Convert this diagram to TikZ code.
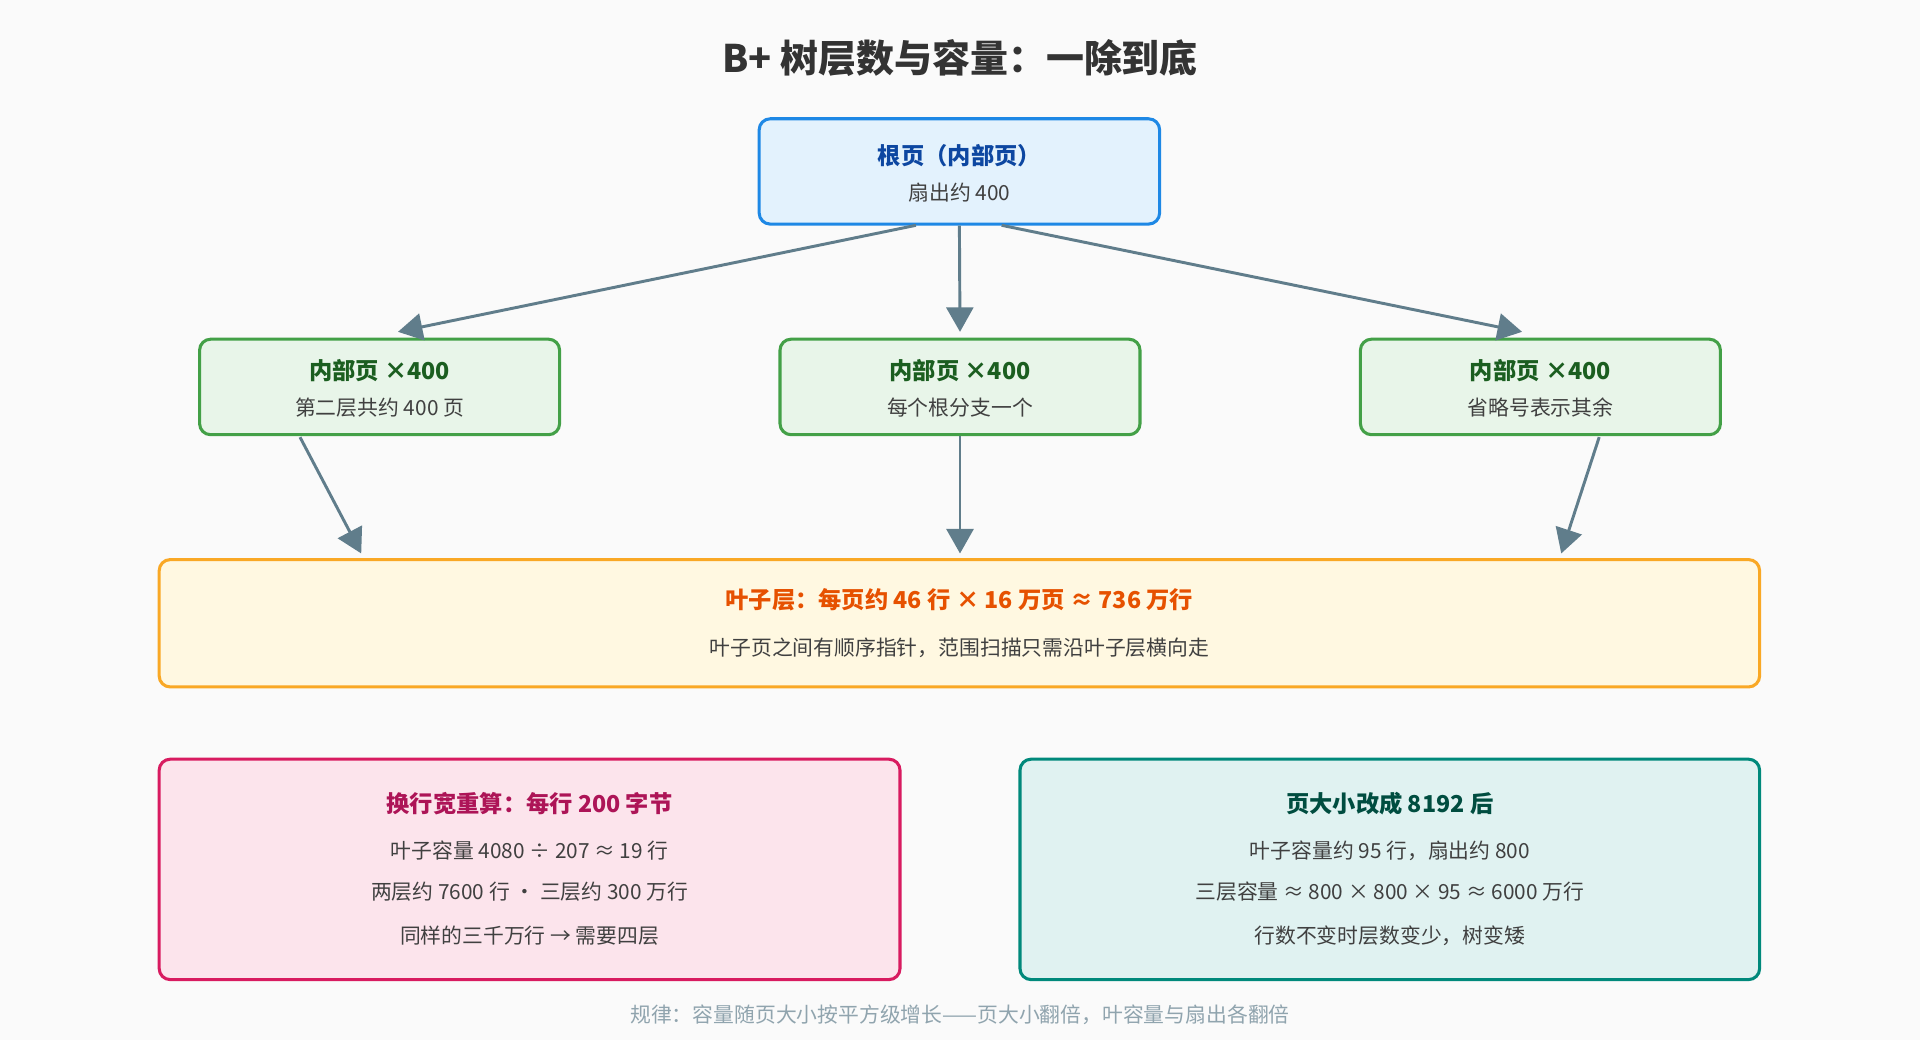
\documentclass[tikz,border=0pt]{standalone}
\usepackage{fontspec}
\setmainfont{Noto Sans CJK SC}
\usetikzlibrary{arrows.meta}
\definecolor{arr}{HTML}{607D8B}
\definecolor{bB}{HTML}{1E88E5}\definecolor{fB}{HTML}{E3F2FD}\definecolor{tB}{HTML}{0D47A1}
\definecolor{bG}{HTML}{43A047}\definecolor{fG}{HTML}{E8F5E9}\definecolor{tG}{HTML}{1B5E20}
\definecolor{bO}{HTML}{F9A825}\definecolor{fO}{HTML}{FFF8E1}\definecolor{tO}{HTML}{E65100}
\definecolor{bP}{HTML}{D81B60}\definecolor{fP}{HTML}{FCE4EC}\definecolor{tP}{HTML}{AD1457}
\definecolor{bT}{HTML}{00897B}\definecolor{fT}{HTML}{E0F2F1}\definecolor{tT}{HTML}{004D40}
\definecolor{foot}{HTML}{90A4AE}
\tikzset{
 box/.style={draw, line width=2.5pt, rounded corners=9pt, inner sep=0pt},
 con/.style={draw=arr, line width=2.4pt, -{Triangle[length=20pt,width=22pt]}},
 tt/.style={font=\fontsize{19}{22}\selectfont\bfseries},
 st/.style={font=\fontsize{17}{20}\selectfont, text=black!75},
}
\begin{document}
\begin{tikzpicture}[x=1pt,y=-1pt]
\useasboundingbox[fill=black!2] (0,0) rectangle (1568,849);
\node[font=\fontsize{31}{34}\selectfont\bfseries, text=black!80] (title) at (784,47) {B+ 树层数与容量：一除到底};
\node[box, draw=bB, fill=fB, minimum width=327pt, minimum height=86pt] (root) at (783.5,140) {};
\node[tt, text=tB] (rt) at (783.5,127) {根页（内部页）};
\node[st] (rs) at (783.5,157) {扇出约 400};
\foreach \n/\x/\s in {a/310/第二层共约 400 页, b/784/每个根分支一个, c/1258/省略号表示其余}{
 \node[box, draw=bG, fill=fG, minimum width=294pt, minimum height=78pt] (\n) at (\x,316) {};
 \node[tt, text=tG] (\n t) at (\x,303) {内部页 ×400};
 \node[st] (\n s) at (\x,333) {\s};
}
\node[box, draw=bO, fill=fO, minimum width=1307pt, minimum height=104pt] (leaf) at (783.5,509) {};
\node[tt, text=tO] (lt) at (783.5,490) {叶子层：每页约 46 行 × 16 万页 ≈ 736 万行};
\node[st] (ls) at (783.5,529) {叶子页之间有顺序指针，范围扫描只需沿叶子层横向走};
\node[box, draw=bP, fill=fP, minimum width=605pt, minimum height=180pt] (p) at (432.5,710) {};
\node[tt, text=tP] (pt) at (432.5,656) {换行宽重算：每行 200 字节};
\node[st] (p1) at (432.5,695) {叶子容量 4080 ÷ 207 ≈ 19 行};
\node[st] (p2) at (432.5,728) {两层约 7600 行 · 三层约 300 万行};
\node[st] (p3) at (432.5,764) {同样的三千万行 → 需要四层};
\node[box, draw=bT, fill=fT, minimum width=604pt, minimum height=180pt] (g) at (1135,710) {};
\node[tt, text=tT] (gt) at (1135,656) {页大小改成 8192 后};
\node[st] (g1) at (1135,695) {叶子容量约 95 行，扇出约 800};
\node[st] (g2) at (1135,728) {三层容量 ≈ 800 × 800 × 95 ≈ 6000 万行};
\node[st] (g3) at (1135,764) {行数不变时层数变少，树变矮};
\node[st, text=foot] (ft) at (784,829) {规律：容量随页大小按平方级增长——页大小翻倍，叶容量与扇出各翻倍};
\coordinate (r1) at (748,184); \coordinate (r3) at (818,184);
\coordinate (ea) at (325,271); \coordinate (eb) at (784,271); \coordinate (ec) at (1243,271);
\draw[con] (r1) -- (ea);
\draw[con] (root.south) -- (eb);
\draw[con] (r3) -- (ec);
\coordinate (sa) at (245,357); \coordinate (sc) at (1306,357);
\coordinate (la) at (295,452); \coordinate (lb) at (784,452); \coordinate (lc) at (1275,452);
\draw[con] (sa) -- (la);
\draw[con] (b.south) -- (lb);
\draw[con] (sc) -- (lc);
\end{tikzpicture}
\end{document}
